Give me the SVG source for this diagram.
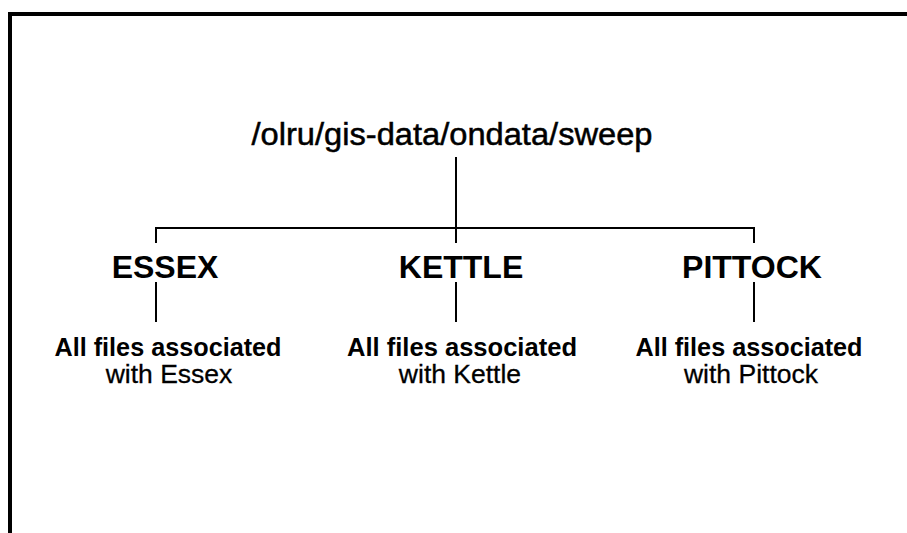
<svg xmlns="http://www.w3.org/2000/svg" width="907" height="533" viewBox="0 0 907 533">
  <style>
    .frame { fill: #000; }
    .wire { stroke: #000; stroke-width: 2; fill: none; shape-rendering: crispEdges; }
    text { font-family: "Liberation Sans", Arial, sans-serif; fill: #000; text-anchor: middle; }
    .root { font-size: 31px; stroke: #000; stroke-width: 0.5px; }
    .head { font-size: 32px; font-weight: bold; }
    .desc1 { font-size: 25.5px; font-weight: bold; }
    .desc2 { font-size: 26.5px; stroke: #000; stroke-width: 0.3px; }
  </style>
  <rect width="907" height="533" fill="#fff"/>
  <!-- open frame: top and left edges -->
  <rect class="frame" x="8" y="12" width="899" height="4"/>
  <rect class="frame" x="8" y="12" width="4" height="521"/>

  <g id="connectors">
    <line class="wire" x1="456" y1="157" x2="456" y2="228"/>
    <line class="wire" x1="155" y1="228" x2="755" y2="228"/>
    <line class="wire" x1="156" y1="228" x2="156" y2="243"/>
    <line class="wire" x1="456" y1="228" x2="456" y2="243"/>
    <line class="wire" x1="754" y1="228" x2="754" y2="243"/>
    <line class="wire" x1="156" y1="282" x2="156" y2="322"/>
    <line class="wire" x1="456" y1="282" x2="456" y2="322"/>
    <line class="wire" x1="754" y1="282" x2="754" y2="322"/>
  </g>

  <g id="root">
    <text class="root" x="452" y="145" textLength="401" lengthAdjust="spacingAndGlyphs">/olru/gis-data/ondata/sweep</text>
  </g>

  <g id="essex">
    <text class="head" x="165" y="278">ESSEX</text>
    <text class="desc1" x="168" y="356" textLength="227" lengthAdjust="spacingAndGlyphs">All files associated</text>
    <text class="desc2" x="169" y="383">with Essex</text>
  </g>

  <g id="kettle">
    <text class="head" x="461" y="278">KETTLE</text>
    <text class="desc1" x="462" y="356" textLength="230" lengthAdjust="spacingAndGlyphs">All files associated</text>
    <text class="desc2" x="460" y="383">with Kettle</text>
  </g>

  <g id="pittock">
    <text class="head" x="752" y="278">PITTOCK</text>
    <text class="desc1" x="749" y="356" textLength="227" lengthAdjust="spacingAndGlyphs">All files associated</text>
    <text class="desc2" x="751" y="383">with Pittock</text>
  </g>
</svg>
